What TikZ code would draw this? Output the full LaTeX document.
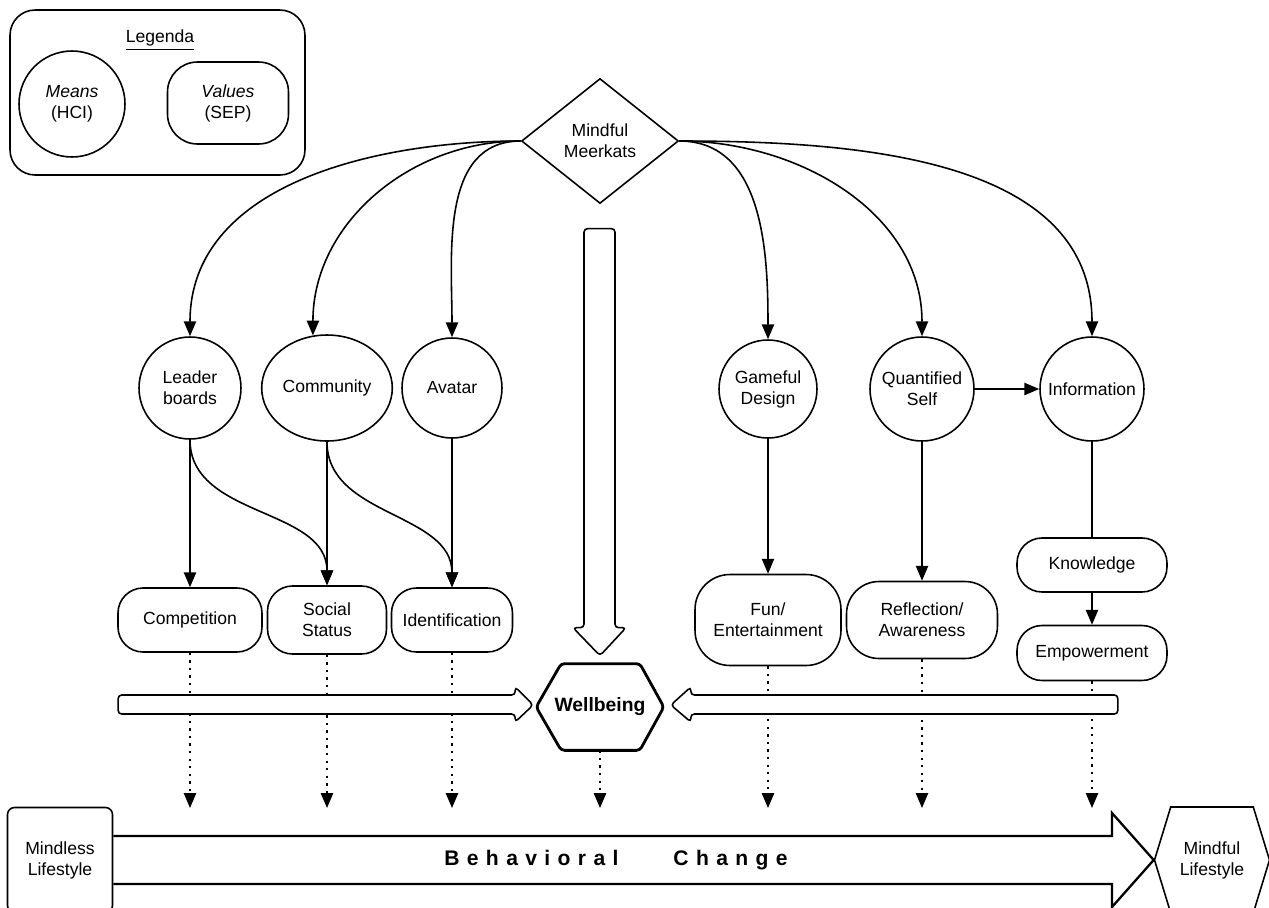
\documentclass[tikz,border=0pt]{standalone}
\usepackage{fontspec}
\setmainfont{Liberation Sans}
\usetikzlibrary{arrows.meta,shapes.geometric,shapes.symbols,calc}

\begin{document}
\begin{tikzpicture}[x=0.02cm, y=-0.02cm, font=\fontsize{10}{12}\selectfont,
  hci/.style={circle, draw, line width=0.9pt, minimum size=2cm, inner sep=1pt, align=center},
  sep/.style={rectangle, draw, rounded corners=0.5cm, line width=0.9pt, minimum width=2.88cm, minimum height=1.28cm, inner sep=1pt, align=center},
  link/.style={-{Triangle[length=8.5pt,width=7pt]}, line width=0.9pt},
  dotlink/.style={link, dash pattern=on 1.3pt off 3pt},
  fat/.style={draw, fill=white, line width=0.9pt, rounded corners=2pt}]
\clip (0,0) rectangle (1269,907);
% legenda
\node[draw, rounded corners=0.5cm, line width=0.9pt, minimum width=5.9cm, minimum height=3.3cm] (leg) at (157.5,92.5) {};
\node (leg0) at (160,40) {\underline{Legenda}};
\node[hci, minimum size=2.12cm] (leg1) at (72,104) {\textit{Means}\\(HCI)};
\node[sep, minimum width=2.42cm, minimum height=1.64cm, rounded corners=0.6cm] (leg2) at (228,103) {\textit{Values}\\(SEP)};
% means
\node[diamond, draw, line width=0.9pt, minimum width=3.14cm, minimum height=2.5cm, inner sep=0pt, align=center] (mm) at (600,141) {Mindful\\Meerkats};
\node[hci, minimum size=2.04cm] (hci1) at (190,388) {Leader\\boards};
\node[hci, ellipse, minimum width=2.56cm, minimum height=2.12cm] (hci2) at (327,388) {Community};
\node[hci] (hci3) at (452,388) {Avatar};
\node[hci, minimum size=1.96cm] (hci4) at (768,389) {Gameful\\Design};
\node[hci, minimum size=2.08cm] (hci5) at (922,389) {Quantified\\Self};
\node[hci, minimum size=2.08cm] (hci6) at (1092,389) {Information};
% values
\node[sep] (sep1) at (190,620) {Competition};
\node[sep, minimum width=2.38cm, minimum height=1.36cm] (sep2) at (327,620) {Social\\Status};
\node[sep, minimum width=2.42cm] (sep3) at (452,620) {Identification};
\node[sep, minimum width=2.92cm, minimum height=1.82cm, rounded corners=0.7cm] (sep4) at (768,620) {Fun/\\Entertainment};
\node[sep, minimum width=3.02cm, minimum height=1.54cm, rounded corners=0.65cm] (sep5) at (922,620) {Reflection/\\Awareness};
\node[sep, minimum width=3cm, minimum height=1.08cm] (sep6) at (1092,565) {Knowledge};
\node[sep, minimum width=3cm, minimum height=1.1cm] (sep7) at (1092,653) {Empowerment};
% wellbeing hexagon
\node[minimum width=2.54cm, minimum height=1.72cm, inner sep=0pt, font=\fontsize{11}{13}\selectfont\bfseries] (wb) at (600,707) {Wellbeing};
\draw[line width=1.6pt, rounded corners=2pt] (wb.west) -- ($(wb.north west)+(25,0)$) -- ($(wb.north east)+(-24,0)$) -- (wb.east) -- ($(wb.south east)+(-24,0)$) -- ($(wb.south west)+(25,0)$) -- cycle;
% lifestyles
\node[draw, rounded corners=4pt, line width=0.9pt, minimum width=2.1cm, minimum height=2.1cm, align=center] (ls0) at (60,860) {Mindless\\Lifestyle};
\node[signal, signal to=east and west, signal pointer angle=146, draw, line width=0.9pt, minimum width=2.3cm, minimum height=2.12cm, align=center] (ls1) at (1212,860) {Mindful\\Lifestyle};
\node[font=\fontsize{12}{14}\selectfont\bfseries\addfontfeature{LetterSpace=35}] (bc) at (616,860) {Behavioral\hspace{1.1cm}Change};

\draw[link] (mm.west) to[out=180,in=90] (hci1.north);
\draw[link] (mm.west) to[out=180,in=90] (hci2.105);
\draw[link] (mm.west) to[out=180,in=90] (hci3.north);
\draw[link] (mm.east) to[out=0,in=90] (hci4.north);
\draw[link] (mm.east) to[out=0,in=90] (hci5.north);
\draw[link] (mm.east) to[out=0,in=90] (hci6.north);
\draw[link] (hci1.south) -- (sep1.north);
\draw[link] (hci1.south) to[out=-90,in=90] (sep2.north);
\draw[link] (hci2.south) -- (sep2.north);
\draw[link] (hci2.south) to[out=-90,in=90] (sep3.north);
\draw[link] (hci3.south) -- (sep3.north);
\draw[link] (hci4.south) -- (sep4.north);
\draw[link] (hci5.south) -- (sep5.north);
\draw[link] (hci5.east) -- (hci6.west);
\draw[line width=0.9pt] (hci6.south) -- (sep6.north);
\draw[link] (sep6.south) -- (sep7.north);

\coordinate (dotend) at (0,808);
\foreach \n in {sep1,sep2,sep3,wb,sep4,sep5,sep7}
  \draw[dotlink] (\n.south) -- (\n.south |- dotend);

% fat arrows into wellbeing
\draw[fat] ($(wb.north)+(0,-8)$) -- ++(-27,-28) -- ++(11,0) -- ++(0,-399) -- ++(31,0) -- ++(0,399) -- ++(11,0) -- cycle;
\draw[fat] ($(wb.west)+(-3,-2)$) -- ++(-18,-18) -- ++(0,8) -- ++(-397,0) -- ++(0,19) -- ++(397,0) -- ++(0,8) -- cycle;
\draw[fat] ($(wb.east)+(7,-2)$) -- ++(20,-18) -- ++(0,8) -- ++(427,0) -- ++(0,19) -- ++(-427,0) -- ++(0,8) -- cycle;
% behavioral change
\draw[line width=1.3pt] (ls0.east |- 0,836) -- (1112,836) -- (1112,813) -- (ls1.west) -- (1112,907) -- (1112,884) -- (ls0.east |- 0,884);
\end{tikzpicture}
\end{document}
